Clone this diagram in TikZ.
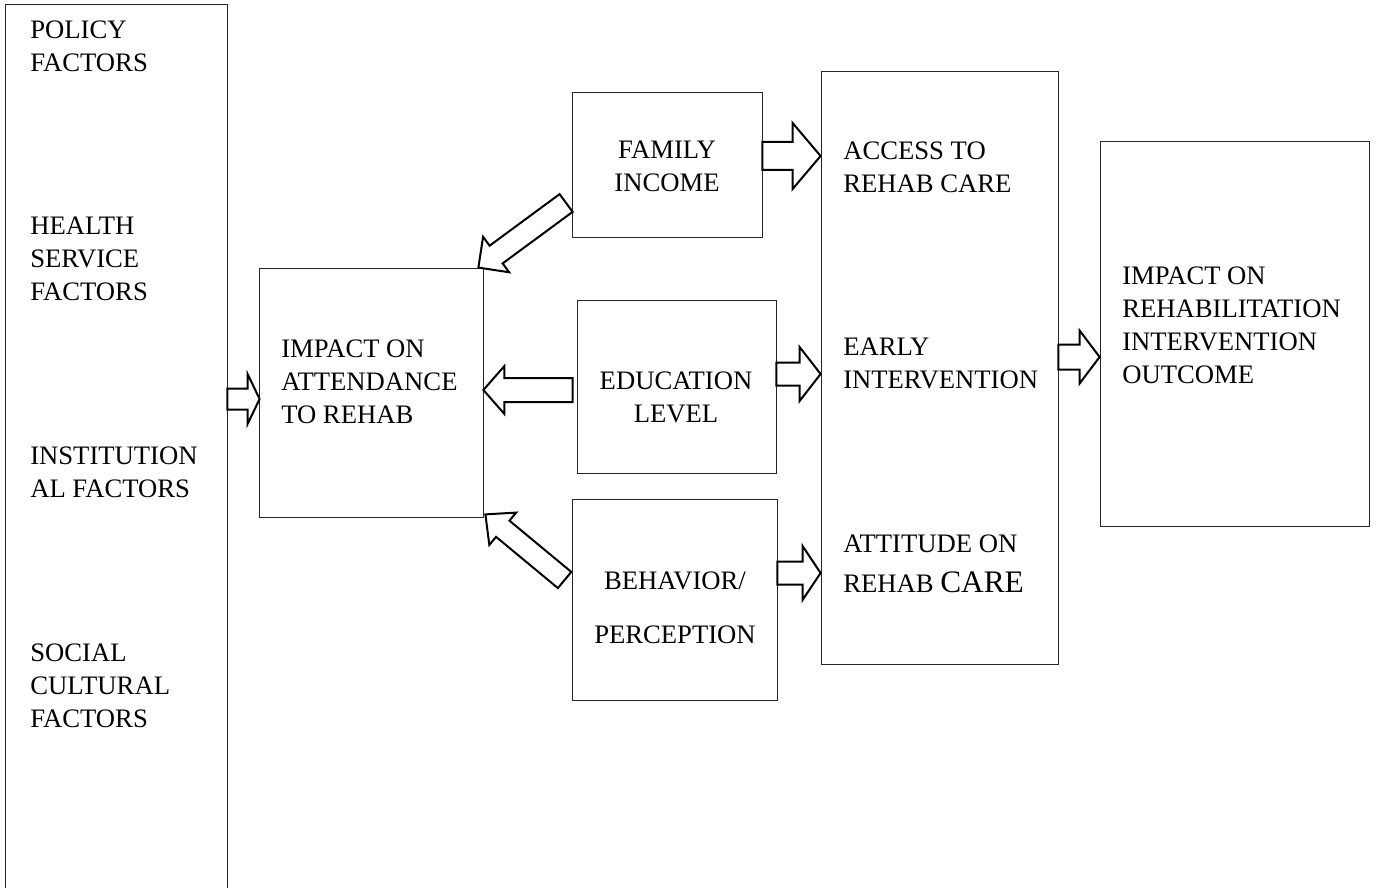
\documentclass[tikz,border=0pt]{standalone}
\usepackage{fontspec}
\setmainfont{Liberation Serif}
\usetikzlibrary{calc}
\newdimen\pxu \pxu=0.75pt

\tikzset{
  box/.style={draw=black!85, line width=0.6pt, inner sep=0pt},
  lbl/.style={font=\fontsize{20pt}{24.75pt}\selectfont, align=left, inner sep=0pt, anchor=west},
  clbl/.style={lbl, align=center, anchor=center},
  blockarr/.style={draw=black, line width=1.5pt, fill=white, line join=miter}
}

% hollow block arrow: tail, tip, shaft half width, head half width, head length (px)
\newcommand{\blockarrow}[5]{%
  \coordinate (ba-h) at ($(#2)!#5*0.75pt!(#1)$);
  \draw[blockarr] ($(#1)!#3*0.75pt!90:(#2)$) -- ($(ba-h)!#3*0.75pt!90:(#2)$)
    -- ($(ba-h)!#4*0.75pt!90:(#2)$) -- (#2) -- ($(ba-h)!#4*0.75pt!-90:(#2)$)
    -- ($(ba-h)!#3*0.75pt!-90:(#2)$) -- ($(#1)!#3*0.75pt!-90:(#2)$) -- cycle;
}

\begin{document}
\begin{tikzpicture}[x=0.75pt, y=-0.75pt]
\useasboundingbox (0,0) rectangle (1379,888);
\clip (0,0) rectangle (1379,888);

% Factors column
\node[box, minimum width=222\pxu, minimum height=906\pxu] (pol) at (116,457) {};
\node[lbl] (pol-a) at (30,46) {POLICY\\FACTORS};
\node[lbl] (pol-b) at (30,259) {HEALTH\\SERVICE\\FACTORS};
\node[lbl] (pol-c) at (30,472.5) {INSTITUTION\\AL FACTORS};
\node[lbl] (pol-d) at (30,686) {SOCIAL\\CULTURAL\\FACTORS};

% Attendance
\node[box, minimum width=224\pxu, minimum height=249\pxu] (att) at (371,392.5) {};
\node[lbl] (att-t) at (281,382) {IMPACT ON\\ATTENDANCE\\TO REHAB};

% Family income
\node[box, minimum width=190\pxu, minimum height=145\pxu] (fam) at (667,164.5) {};
\node[clbl] (fam-t) at (667,166) {FAMILY\\INCOME};

% Education level
\node[box, minimum width=199\pxu, minimum height=173\pxu] (edu) at (676.5,386.5) {};
\node[clbl] (edu-t) at (676,397) {EDUCATION\\LEVEL};

% Behavior / perception
\node[box, minimum width=205\pxu, minimum height=201\pxu] (beh) at (674.5,599.5) {};
\node[clbl] (beh-t) at (675,608) {BEHAVIOR/\\[15.75pt]PERCEPTION};

% Middle column
\node[box, minimum width=237\pxu, minimum height=593\pxu] (mid) at (939.5,367.5) {};
\node[lbl] (mid-a) at (843,167.5) {ACCESS TO\\REHAB CARE};
\node[lbl] (mid-b) at (843,363.5) {EARLY\\INTERVENTION};
\node[lbl] (mid-c) at (843,564) {ATTITUDE ON\\[5pt]REHAB {\fontsize{23.5pt}{28pt}\selectfont CARE}};

% Outcome
\node[box, minimum width=269\pxu, minimum height=385\pxu] (out) at (1234.5,333.5) {};
\node[lbl] (out-t) at (1122,325.5) {IMPACT ON\\REHABILITATION\\INTERVENTION\\OUTCOME};

% Arrows
\coordinate (p1) at ($(att.west)+(1,6.5)$);
\coordinate (p0) at (pol.east |- p1);
\blockarrow{p0}{p1}{10.5}{25}{12}

\coordinate (f0) at ($(fam.east)+(0,-8.5)$);
\coordinate (f1) at (mid.west |- f0);
\blockarrow{f0}{f1}{14}{33}{28}

\coordinate (e0) at ($(edu.east)+(0,-12.5)$);
\coordinate (e1) at (mid.west |- e0);
\blockarrow{e0}{e1}{11.5}{27}{21}

\coordinate (b0) at ($(beh.east)+(0,-26.5)$);
\coordinate (b1) at (mid.west |- b0);
\blockarrow{b0}{b1}{11.5}{27}{18}

\coordinate (m0) at ($(mid.east)+(0,-10.5)$);
\coordinate (m1) at (out.west |- m0);
\blockarrow{m0}{m1}{12.5}{26.5}{20}

\coordinate (e2) at ($(edu.west)+(-4,3.5)$);
\coordinate (e3) at (att.east |- e2);
\blockarrow{e2}{e3}{12}{24}{21}

\coordinate (f2) at ($(fam.west)+(-5.5,38.5)$);
\coordinate (f3) at ($(att.north east)+(-5,0)$);
\blockarrow{f2}{f3}{11}{22}{22}

\coordinate (b2) at ($(beh.west)+(-7,-19.5)$);
\coordinate (b3) at ($(att.south east)+(2,-3)$);
\blockarrow{b2}{b3}{10.5}{21}{22.5}
\end{tikzpicture}
\end{document}
